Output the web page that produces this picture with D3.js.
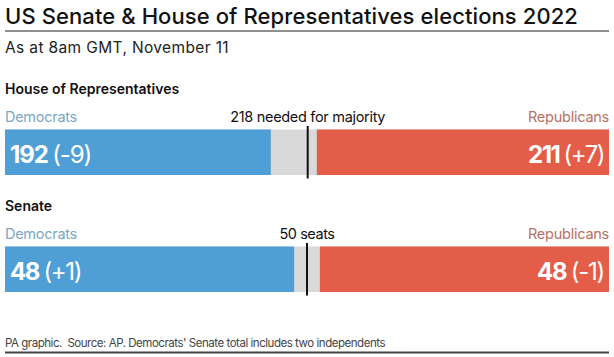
<!DOCTYPE html>
<html>
<head>
<meta charset="utf-8">
<script src="https://cdn.jsdelivr.net/npm/d3@7"></script>
<style>
  html, body { margin: 0; padding: 0; background: #fff; }
  svg { display: block; font-family: Inter, "Noto Sans", sans-serif; }
  text { white-space: pre; }
</style>
</head>
<body>
<svg id="chart" width="614" height="357"></svg>
<script>
// ---- data ----
const chambers = ["House of Representatives", "Senate"];
const totals = [435, 100];
const demSeats = [192, 48];
const demChange = ["(-9)", "(+1)"];
const repSeats = [211, 48];
const repChange = ["(+7)", "(-1)"];
const thresholds = [218, 50];
const thresholdLabels = ["218 needed for majority", "50 seats"];
const partyNames = ["Democrats", "Republicans"];

const title = "US Senate & House of Representatives elections 2022";
const subtitle = "As at 8am GMT, November 11";
const footer = "PA graphic.  Source: AP. Democrats' Senate total includes two independents";

// ---- layout ----
const W = 614, H = 357;
const left = 5, right = 609;
const colors = { dem: "#4f9fd6", rep: "#e35d48", gray: "#d9d9d9", demText: "#7aa8c4", repText: "#b87264" };
const demLabelW = [81, 71], repLabelW = [76, 67];

const svg = d3.select("#chart");

function fit(sel, target) {
  const node = sel.node();
  const n = sel.text().length;
  const len = node.getComputedTextLength();
  sel.attr("letter-spacing", ((target - len) / n).toFixed(3));
}

// title
const t = svg.append("text").attr("x", left).attr("y", 24)
  .attr("font-size", 22).attr("font-weight", 500).attr("fill", "#111").text(title);
fit(t, 573);
svg.append("line").attr("x1", left).attr("x2", right).attr("y1", 31).attr("y2", 31)
  .attr("stroke", "#222").attr("stroke-width", 1.2);
const st = svg.append("text").attr("x", left).attr("y", 53)
  .attr("font-size", 15.5).attr("fill", "#222").text(subtitle);
fit(st, 224);

// rows
const rowY = d3.scalePoint().domain(chambers).range([94, 211]);

chambers.forEach((c, i) => {
  const y0 = rowY(c);
  const x = d3.scaleLinear().domain([0, totals[i]]).range([left, right]);
  const g = svg.append("g");

  g.append("text").attr("x", left).attr("y", y0)
    .attr("font-size", 14).attr("font-weight", 600).attr("fill", "#111").text(c);

  const dn = g.append("text").attr("x", left).attr("y", y0 + 27.5)
    .attr("font-size", 14.5).attr("fill", colors.demText).text(partyNames[0]);
  fit(dn, 72);
  const rn = g.append("text").attr("x", right).attr("y", y0 + 27.5).attr("text-anchor", "end")
    .attr("font-size", 14.5).attr("fill", colors.repText).text(partyNames[1]);
  fit(rn, 81);

  const barTop = y0 + 35.5, barH = 45.5;
  g.append("rect").attr("x", x(0)).attr("y", barTop).attr("width", x(totals[i]) - x(0)).attr("height", barH)
    .attr("fill", colors.gray);
  g.append("rect").attr("x", x(0)).attr("y", barTop).attr("width", x(demSeats[i]) - x(0) - 0.8).attr("height", barH)
    .attr("fill", colors.dem);
  g.append("rect").attr("x", x(totals[i] - repSeats[i]) + 0.8).attr("y", barTop)
    .attr("width", x(totals[i]) - x(totals[i] - repSeats[i]) - 0.8).attr("height", barH)
    .attr("fill", colors.rep);

  g.append("line").attr("x1", x(thresholds[i])).attr("x2", x(thresholds[i]))
    .attr("y1", barTop - 3.5).attr("y2", barTop + barH + 3.5)
    .attr("stroke", "#111").attr("stroke-width", 2);
  const tl = g.append("text").attr("x", x(thresholds[i])).attr("y", y0 + 27.5).attr("text-anchor", "middle")
    .attr("font-size", 14.5).attr("fill", "#111").text(thresholdLabels[i]);
  fit(tl, i === 0 ? 155 : 55);

  const vy = barTop + 33;
  const dl = g.append("text").attr("x", left + 5).attr("y", vy).attr("font-size", 24).attr("fill", "#fff");
  dl.append("tspan").attr("font-weight", 700).text(demSeats[i] + " ");
  dl.append("tspan").attr("font-weight", 400).text(demChange[i]);
  fit(dl, demLabelW[i]);
  const rl = g.append("text").attr("x", right - 5).attr("y", vy).attr("text-anchor", "end").attr("font-size", 24).attr("fill", "#fff");
  rl.append("tspan").attr("font-weight", 700).text(repSeats[i] + " ");
  rl.append("tspan").attr("font-weight", 400).text(repChange[i]);
  fit(rl, repLabelW[i]);
});

// footer
const ft = svg.append("text").attr("x", left).attr("y", 347)
  .attr("font-size", 11.5).attr("fill", "#444").text(footer);
fit(ft, 380);
svg.append("line").attr("x1", left).attr("x2", right).attr("y1", 352.5).attr("y2", 352.5)
  .attr("stroke", "#444").attr("stroke-width", 2);
</script>
</body>
</html>
